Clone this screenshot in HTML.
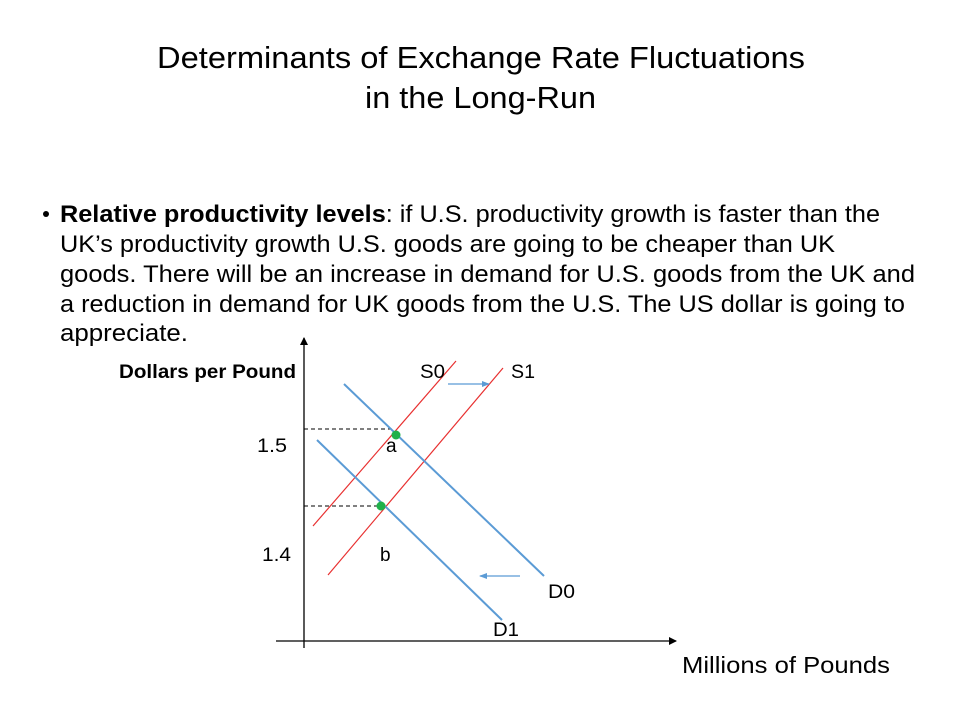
<!DOCTYPE html>
<html><head><meta charset="utf-8"><style>html,body{margin:0;padding:0;background:#fff}svg{display:block}</style></head>
<body>
<svg width="960" height="720" viewBox="0 0 960 720" xmlns="http://www.w3.org/2000/svg" font-family="'Liberation Sans', sans-serif">
<defs>
<marker id="ak" markerWidth="8" markerHeight="8" refX="7" refY="4" orient="auto" markerUnits="userSpaceOnUse"><path d="M0,0 L8,4 L0,8 z" fill="#000"/></marker>
<marker id="ab" markerWidth="8" markerHeight="8" refX="7" refY="4" orient="auto" markerUnits="userSpaceOnUse"><path d="M0,1 L8,4 L0,7 z" fill="#5b9bd5"/></marker>
</defs>
<g fill="#000" font-size="31">
<text x="157" y="68" textLength="648" lengthAdjust="spacingAndGlyphs">Determinants of Exchange Rate Fluctuations</text>
<text x="365" y="108" textLength="231" lengthAdjust="spacingAndGlyphs">in the Long-Run</text>
</g>
<g fill="#000" font-size="24">
<circle cx="46" cy="214" r="3"/>
<text x="60" y="222" textLength="820" lengthAdjust="spacingAndGlyphs"><tspan font-weight="bold">Relative productivity levels</tspan>: if U.S. productivity growth is faster than the</text>
<text x="60" y="252" textLength="775" lengthAdjust="spacingAndGlyphs">UK’s productivity growth U.S. goods are going to be cheaper than UK</text>
<text x="60" y="282" textLength="855" lengthAdjust="spacingAndGlyphs">goods.  There will be an increase in demand for U.S. goods from the UK and</text>
<text x="60" y="312" textLength="845" lengthAdjust="spacingAndGlyphs">a reduction in demand for UK goods from the U.S. The US dollar is going to</text>
<text x="60" y="341" textLength="128" lengthAdjust="spacingAndGlyphs">appreciate.</text>
</g>
<line x1="304" y1="648" x2="304" y2="338" stroke="#000" stroke-width="1.3" marker-end="url(#ak)"/>
<line x1="276" y1="641" x2="676" y2="641" stroke="#000" stroke-width="1.3" marker-end="url(#ak)"/>
<line x1="304" y1="429" x2="394" y2="429" stroke="#000" stroke-dasharray="4,3"/>
<line x1="304" y1="506" x2="381" y2="506" stroke="#000" stroke-dasharray="4,3"/>
<line x1="313" y1="526" x2="456" y2="361" stroke="#e83030" stroke-width="1.2"/>
<line x1="328" y1="575" x2="503" y2="368" stroke="#e83030" stroke-width="1.2"/>
<line x1="344" y1="384" x2="544" y2="576" stroke="#5b9bd5" stroke-width="2"/>
<line x1="317" y1="440" x2="502" y2="620" stroke="#5b9bd5" stroke-width="2"/>
<line x1="448" y1="384" x2="489" y2="384" stroke="#5b9bd5" stroke-width="1.3" marker-end="url(#ab)"/>
<line x1="520" y1="576" x2="480" y2="576" stroke="#5b9bd5" stroke-width="1.3" marker-end="url(#ab)"/>
<circle cx="396" cy="435" r="4.5" fill="#1fb14a"/>
<circle cx="381" cy="506" r="4.5" fill="#1fb14a"/>
<g font-size="19" fill="#000">
<text x="119" y="378" font-weight="bold" textLength="177" lengthAdjust="spacingAndGlyphs">Dollars per Pound</text>
<text x="420" y="378" textLength="25" lengthAdjust="spacingAndGlyphs">S0</text>
<text x="511" y="378" textLength="24" lengthAdjust="spacingAndGlyphs">S1</text>
<text x="386" y="452">a</text>
<text x="380" y="561">b</text>
<text x="257" y="452" textLength="30" lengthAdjust="spacingAndGlyphs">1.5</text>
<text x="262" y="561" textLength="29" lengthAdjust="spacingAndGlyphs">1.4</text>
<text x="548" y="598" textLength="27" lengthAdjust="spacingAndGlyphs">D0</text>
<text x="493" y="636" textLength="26" lengthAdjust="spacingAndGlyphs">D1</text>
</g>
<text x="682" y="673" font-size="23" textLength="208" lengthAdjust="spacingAndGlyphs">Millions of Pounds</text>
</svg>
</body></html>
